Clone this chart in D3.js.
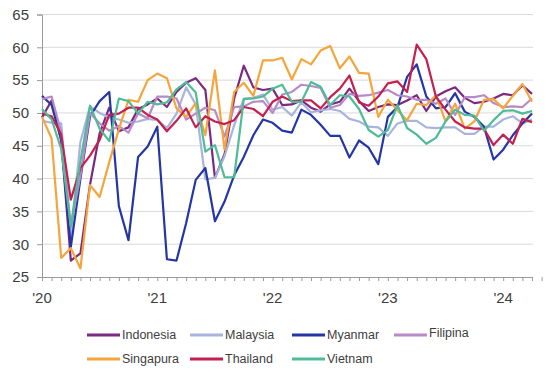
<!DOCTYPE html>
<html>
<head>
<meta charset="utf-8">
<script src="https://cdn.jsdelivr.net/npm/d3@7"></script>
<style>
  body { margin: 0; background: #fff; }
  text { font-family: "Liberation Sans", Arial, sans-serif; fill: #404040; }
</style>
</head>
<body>
<div id="chart"></div>
<script>
// monthly PMI, Jan 2020 .. Apr 2024
var yearLabels = ["'20", "'21", "'22", "'23", "'24"];
var yTicks = [25, 30, 35, 40, 45, 50, 55, 60, 65];

var indonesia = [49.3, 51.9, 45.8, 27.5, 28.6, 39.1, 46.9, 50.8, 47.2, 47.8, 50.6, 51.3,
  52.2, 50.9, 53.2, 54.6, 55.3, 53.5, 40.1, 43.7, 52.2, 57.2, 53.9, 53.5,
  53.7, 51.2, 51.3, 51.9, 50.8, 50.2, 51.3, 51.7, 53.7, 51.8, 50.3, 50.9,
  51.3, 51.2, 51.9, 52.7, 50.3, 52.5, 53.3, 53.9, 52.3, 51.5, 51.7, 52.2,
  52.9, 52.7, 54.2, 52.9];
var malaysia = [48.8, 48.5, 48.4, 31.3, 45.6, 51.0, 50.0, 49.3, 49.0, 48.5, 48.7, 49.1,
  48.9, 47.7, 49.9, 53.9, 51.3, 39.9, 40.1, 43.4, 48.1, 52.2, 52.3, 52.8,
  50.5, 50.9, 49.6, 51.6, 50.1, 50.4, 50.6, 50.3, 49.1, 48.7, 47.9, 47.8,
  46.5, 48.4, 48.8, 48.8, 47.8, 47.7, 47.8, 47.8, 46.8, 46.8, 47.9, 47.9,
  49.0, 49.5, 48.4, 49.0];
var myanmar = [52.6, 51.2, 45.9, 29.6, 40.0, 49.5, 51.8, 53.2, 35.8, 30.6, 43.3, 44.9,
  47.9, 27.7, 27.5, 33.2, 39.8, 41.6, 33.5, 36.5, 40.5, 43.3, 46.6, 49.0,
  48.5, 47.3, 47.0, 50.5, 49.7, 48.2, 46.5, 46.5, 43.2, 45.8, 44.7, 42.2,
  49.4, 50.9, 55.5, 57.4, 52.5, 50.7, 50.9, 53.0, 50.2, 49.4, 47.9, 42.9,
  44.4, 46.6, 48.4, 49.9];
var filipina = [52.1, 52.5, 47.0, 32.7, 40.5, 50.0, 48.4, 47.3, 48.0, 47.0, 49.9, 49.2,
  52.5, 52.5, 52.2, 49.0, 49.9, 50.8, 50.4, 46.4, 50.9, 51.0, 51.7, 51.8,
  50.0, 52.8, 53.2, 54.3, 54.1, 53.8, 50.8, 51.2, 52.9, 52.6, 52.7, 53.1,
  53.5, 52.7, 52.5, 52.0, 52.0, 51.4, 52.2, 49.7, 52.4, 52.4, 52.7, 51.5,
  50.9, 51.0, 50.9, 52.2];
var singapura = [49.4, 46.1, 27.9, 29.4, 26.3, 39.0, 37.2, 42.5, 47.5, 52.0, 51.7, 55.0,
  56.0, 55.3, 50.7, 49.4, 51.5, 46.6, 56.5, 44.4, 53.2, 54.6, 52.6, 58.0,
  58.0, 58.4, 55.1, 58.2, 57.4, 59.5, 60.2, 56.8, 58.6, 56.1, 56.0, 49.4,
  52.0, 50.4, 48.9, 51.4, 51.2, 52.7, 48.7, 51.4, 47.6, 48.7, 52.0, 52.1,
  50.7, 52.6, 54.4, 51.7];
var thailand = [49.9, 49.5, 46.7, 36.8, 41.6, 43.5, 45.9, 49.7, 49.9, 50.8, 50.8, 49.7,
  49.0, 47.2, 48.8, 50.7, 47.8, 49.5, 48.7, 48.3, 48.9, 50.9, 50.6, 49.5,
  51.7, 52.5, 51.8, 51.9, 51.9, 50.7, 52.4, 53.7, 55.7, 51.6, 51.1, 52.5,
  54.5, 54.8, 53.2, 60.4, 58.2, 52.5, 50.5, 48.7, 47.8, 47.6, 47.6, 45.1,
  46.7, 45.3, 49.1, 48.6];
var vietnam = [50.6, 49.0, 44.5, 32.7, 42.7, 51.1, 47.6, 45.7, 52.2, 51.8, 49.9, 51.7,
  51.3, 51.6, 53.6, 54.7, 53.1, 44.1, 45.1, 40.2, 40.2, 52.1, 52.2, 52.5,
  53.7, 54.3, 51.7, 51.7, 54.7, 54.0, 51.2, 52.7, 52.5, 50.6, 47.4, 46.4,
  47.4, 51.2, 47.7, 46.7, 45.3, 46.2, 48.7, 50.5, 49.7, 49.6, 47.3, 48.9,
  50.3, 50.4, 49.9, 50.3];

var names = ["Indonesia", "Malaysia", "Myanmar", "Filipina", "Singapura", "Thailand", "Vietnam"];
var values = [indonesia, malaysia, myanmar, filipina, singapura, thailand, vietnam];
var colors = ["#7b2a80", "#a9b4de", "#2436a6", "#b88ac8", "#f5a53b", "#c4204f", "#4fbb97"];

var chartW = 546, chartH = 375;
var plotLeft = 42, plotRight = 532, plotTop = 14.5, plotBottom = 277;
var nMonths = indonesia.length;

var svg = d3.select("#chart").append("svg").attr("width", chartW).attr("height", chartH);

var x = d3.scaleLinear().domain([0, nMonths - 1]).range([plotLeft, plotRight]);
var y = d3.scaleLinear().domain([25, 65]).range([plotBottom, plotTop]);

// gridlines
svg.selectAll(".grid").data(yTicks.slice(1)).enter().append("line")
  .attr("class", "grid")
  .attr("x1", plotLeft).attr("x2", plotRight + 1)
  .attr("y1", function(d) { return y(d); })
  .attr("y2", function(d) { return y(d); })
  .style("stroke", "#d9d9d9").style("stroke-width", 1);

// y axis
var yAxis = d3.axisLeft(y).tickValues(yTicks).tickSize(5).tickPadding(8);
var gy = svg.append("g").attr("transform", "translate(" + plotLeft + ",0)").call(yAxis);
gy.select(".domain").style("stroke", "#9a9a9a");
gy.selectAll(".tick line").style("stroke", "#9a9a9a");
gy.selectAll("text").style("font-size", "15px").style("fill", "#404040")
  .attr("font-family", "Liberation Sans, Arial, sans-serif");

// x axis, one tick per month
var monthTicks = d3.range(0, nMonths + 1);
var xAxis = d3.axisBottom(x).tickValues(monthTicks).tickSize(4).tickSizeOuter(0)
  .tickFormat(function() { return ""; });
var gx = svg.append("g").attr("transform", "translate(0," + plotBottom + ")").call(xAxis);
gx.select(".domain").style("stroke", "#9a9a9a");
gx.selectAll(".tick line").style("stroke", "#9a9a9a");

svg.selectAll(".xlab").data(yearLabels).enter().append("text")
  .attr("class", "xlab")
  .attr("x", function(d, i) { return x(i * 12); })
  .attr("y", 303)
  .attr("text-anchor", "middle")
  .style("font-size", "15px")
  .text(function(d) { return d; });

// lines
var line = d3.line()
  .x(function(d, i) { return x(i); })
  .y(function(d) { return y(d); });

svg.selectAll(".series").data(values).enter().append("path")
  .attr("class", "series")
  .attr("d", function(d) { return line(d); })
  .style("fill", "none")
  .style("stroke", function(d, i) { return colors[i]; })
  .style("stroke-width", 2.2)
  .style("stroke-linejoin", "round");

// legend
var legendX = [87, 190, 292, 394];
var legendY = [335, 359];
var items = names.map(function(n, i) {
  return { name: n, color: colors[i], col: i < 4 ? i : i - 4, row: i < 4 ? 0 : 1 };
});
var lg = svg.selectAll(".leg").data(items).enter().append("g").attr("class", "leg")
  .attr("transform", function(d) {
    return "translate(" + legendX[d.col] + "," + legendY[d.row] + ")";
  });
lg.append("line").attr("x1", 0).attr("x2", 33).attr("y1", 0).attr("y2", 0)
  .style("stroke", function(d) { return d.color; }).style("stroke-width", 3);
lg.append("text").attr("x", 35).attr("y", function(d) { return d.name == "Filipina" ? 2 : 4; })
  .style("font-size", "12.5px")
  .text(function(d) { return d.name; });
</script>
</body>
</html>
